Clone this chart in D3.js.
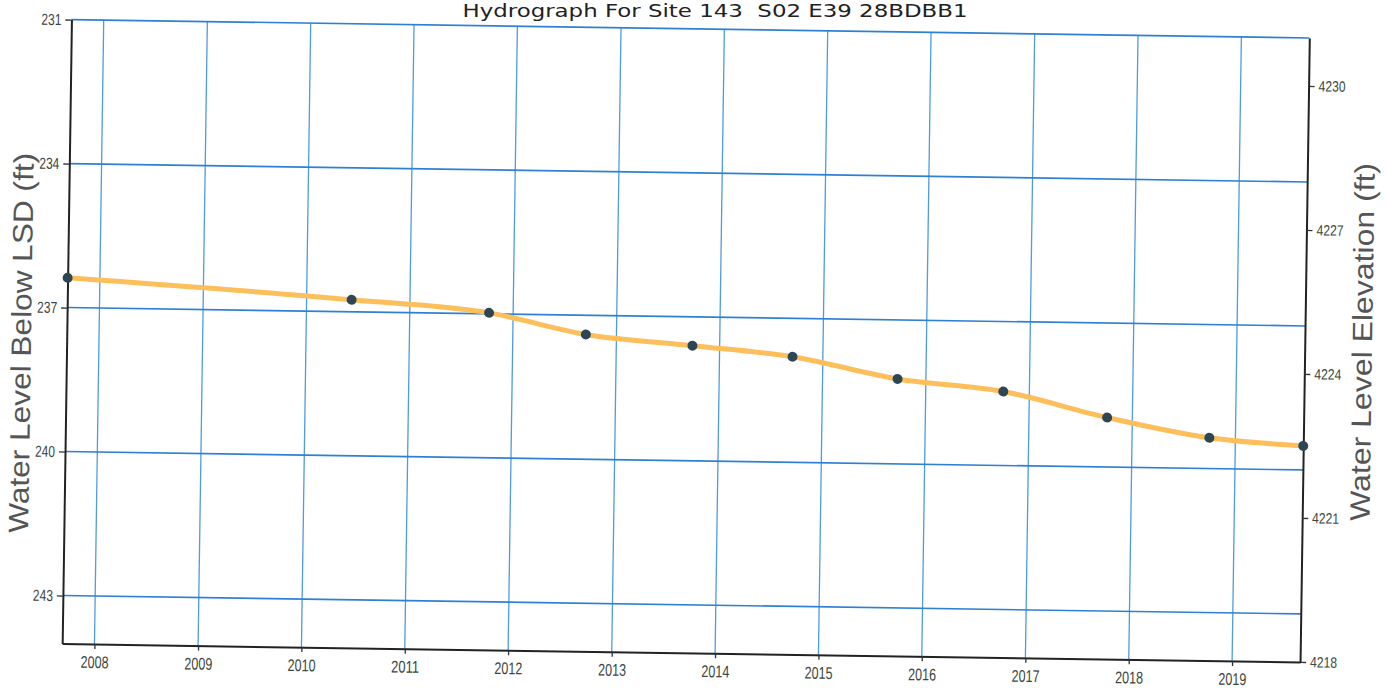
<!DOCTYPE html>
<html><head><meta charset="utf-8">
<script src="https://cdn.jsdelivr.net/npm/d3@7"></script>
<style>html,body{margin:0;padding:0;background:#fff;} svg{display:block}</style>
</head><body>
<svg id="chart" width="1387" height="688"></svg>
<script>
// ---- data ----
const chartTitle = "Hydrograph For Site 143  S02 E39 28BDBB1";
const leftTitle = "Water Level Below LSD (ft)";
const rightTitle = "Water Level Elevation (ft)";
const sampleDates = ["2007-09-09","2010-06-09","2011-10-08","2012-09-15","2013-09-27","2014-09-16","2015-09-23","2016-10-01","2017-10-04","2018-10-01","2019-08-29"];
const depthsBelowLSD = [236.38, 236.75, 236.98, 237.40, 237.60, 237.80, 238.23, 238.46, 238.97, 239.36, 239.50];
const yearTicks = [2008,2009,2010,2011,2012,2013,2014,2015,2016,2017,2018,2019];
const leftTicks = [231,234,237,240,243];
const rightTicks = [4218,4221,4224,4227,4230];
const leftDomain = [231, 244];
const rightDomain = [4231, 4218];

// ---- layout ----
const L = 66.75, T = 28.75, W = 1238, H = 624;
const cx = L + W/2, cy = T + H/2;
const parse = d3.timeParse("%Y-%m-%d");
const data = sampleDates.map((d,i)=>({date: parse(d), depth: depthsBelowLSD[i]}));

const svg = d3.select("#chart");
svg.append("rect").attr("width",1387).attr("height",688).attr("fill","#fff");
const g = svg.append("g").attr("transform", `rotate(0.85, ${cx}, ${cy})`);

const x = d3.scaleTime().domain(d3.extent(data, d=>d.date)).range([L, L+W]);
const yL = d3.scaleLinear().domain(leftDomain).range([T, T+H]);
const yR = d3.scaleLinear().domain(rightDomain).range([T, T+H]);
const yearDates = yearTicks.map(y => new Date(y,0,1));

// gridlines
g.append("g").selectAll("line").data(yearDates).join("line")
  .attr("x1", d=>x(d)).attr("x2", d=>x(d)).attr("y1", T).attr("y2", T+H)
  .attr("stroke", "#4f9be0").attr("stroke-width", 1.3);
g.append("g").selectAll("line").data(leftTicks).join("line")
  .attr("x1", L).attr("x2", L+W).attr("y1", d=>yL(d)).attr("y2", d=>yL(d))
  .attr("stroke", "#2f80d2").attr("stroke-width", 1.6);

function styleAxis(sel, fs, tl){
  sel.select(".domain").attr("stroke","#222").attr("stroke-width",2);
  sel.selectAll(".tick line").attr("stroke","#333").attr("stroke-width",1.3);
  sel.selectAll(".tick text").attr("fill","#3c4640")
    .attr("font-family","'Liberation Sans', Arial, sans-serif").attr("font-size",fs)
    .attr("textLength",tl).attr("lengthAdjust","spacingAndGlyphs");
}

const axL = g.append("g").attr("transform",`translate(${L},0)`)
  .call(d3.axisLeft(yL).tickValues(leftTicks).tickFormat(d3.format("d")).tickSize(6).tickSizeOuter(0).tickPadding(4));
styleAxis(axL, 16, 20);
const axR = g.append("g").attr("transform",`translate(${L+W},0)`)
  .call(d3.axisRight(yR).tickValues(rightTicks).tickFormat(d3.format("d")).tickSize(6).tickSizeOuter(0).tickPadding(4));
styleAxis(axR, 15, 27);
const axB = g.append("g").attr("transform",`translate(0,${T+H})`)
  .call(d3.axisBottom(x).tickValues(yearDates).tickFormat(d3.timeFormat("%Y")).tickSize(5).tickSizeOuter(0).tickPadding(7));
styleAxis(axB, 17, 28);

// titles
svg.append("text").attr("x", 715).attr("y", 17).attr("text-anchor","middle")
  .attr("font-family","'DejaVu Sans', Verdana, sans-serif").attr("font-size",17).attr("fill","#222")
  .attr("xml:space","preserve").style("white-space","pre")
  .attr("textLength",505).attr("lengthAdjust","spacingAndGlyphs").text(chartTitle);
g.append("text").attr("transform","translate(31,352.7) rotate(-90)").attr("text-anchor","middle")
  .attr("font-family","'Liberation Sans', Arial, sans-serif").attr("font-size",28).attr("fill","#555")
  .attr("textLength",380).attr("lengthAdjust","spacingAndGlyphs").text(leftTitle);
g.append("text").attr("transform","translate(1372,331.8) rotate(-90)").attr("text-anchor","middle")
  .attr("font-family","'Liberation Sans', Arial, sans-serif").attr("font-size",28).attr("fill","#555")
  .attr("textLength",358).attr("lengthAdjust","spacingAndGlyphs").text(rightTitle);

// series
const line = d3.line().x(d=>x(d.date)).y(d=>yL(d.depth)).curve(d3.curveMonotoneX);
g.append("path").datum(data).attr("d", line).attr("fill","none")
  .attr("stroke","#fcbf5c").attr("stroke-width",5).attr("stroke-linecap","round").attr("stroke-linejoin","round");
g.append("g").selectAll("circle").data(data).join("circle")
  .attr("cx", d=>x(d.date)).attr("cy", d=>yL(d.depth)).attr("r", 5).attr("fill","#2c4656");
</script>
</body></html>
